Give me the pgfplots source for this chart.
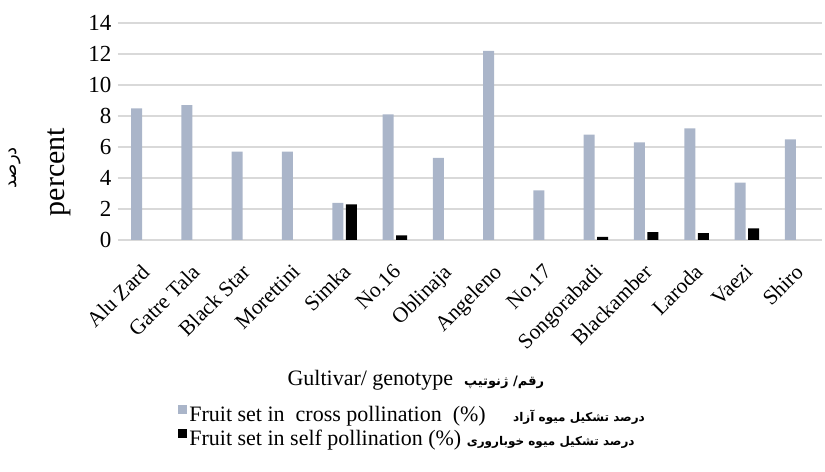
\documentclass[border=0pt]{standalone}
\usepackage{pgfplots}
\pgfplotsset{compat=1.18}
\usepackage{fontspec}
\setmainfont{Liberation Serif}
\newfontfamily\arabicfont[Script=Arabic]{DejaVu Sans}
\TeXXeTstate=1
\definecolor{crossc}{RGB}{170,181,201}
\definecolor{gridc}{RGB}{217,217,217}
\begin{document}
\begin{tikzpicture}
\begin{axis}[
 clip=false,
 scale only axis, width=704pt, height=217pt,
 ymin=0, ymax=14, ytick={0,2,...,14},
 xmin=-0.5, xmax=13.5,
 xtick={0,...,13},
 xticklabels={Alu Zard, Gatre Tala, Black Star, Morettini, Simka, No.16, Oblinaja, Angeleno, No.17, Songorabadi, Blackamber, Laroda, Vaezi, Shiro},
 axis line style={draw=none},
 major tick length=0pt,
 ymajorgrids, grid style={gridc, line width=1.2pt},
 /pgf/number format/assume math mode=true,
 yticklabel style={font=\fontsize{23}{26}\selectfont, xshift=-3pt},
 xticklabel style={font=\fontsize{21.5}{24}\selectfont, xshift=-3pt, yshift=-18pt, rotate=45, anchor=north east},
 legend style={at={(axis description cs:0.0855,-0.755)}, anchor=north west, draw=none, fill=none, font=\fontsize{22}{25}\selectfont, legend cell align=left, row sep=3pt, inner sep=0pt},
]
\addplot[ybar, bar width=11pt, bar shift=-6.5pt, fill=crossc, draw=none,
  legend image code/.code={\fill[crossc] (0pt,0pt) rectangle (9pt,9pt);}]
 coordinates {(0,8.5) (1,8.7) (2,5.7) (3,5.7) (4,2.4) (5,8.1) (6,5.3) (7,12.2) (8,3.2) (9,6.8) (10,6.3) (11,7.2) (12,3.7) (13,6.5)};
\addlegendentry{Fruit set in\ \ cross pollination\ \ (\%)\quad\ {\arabicfont\bfseries\fontsize{12}{18}\selectfont\beginR درصد تشکیل میوه آزاد\endR}}
\addplot[ybar, bar width=11pt, bar shift=7pt, fill=black, draw=none,
  legend image code/.code={\fill[black] (0pt,0pt) rectangle (9pt,9pt);}]
 coordinates {(4,2.3) (5,0.3) (9,0.2) (10,0.5) (11,0.45) (12,0.75)};
\addlegendentry{Fruit set in self pollination (\%) {\arabicfont\bfseries\fontsize{12}{18}\selectfont\beginR درصد تشکیل میوه خوباروری\endR}}
\node[font=\fontsize{22}{25}\selectfont] at (axis description cs:0.423,-0.645) {Gultivar/ genotype\ \ {\arabicfont\bfseries\fontsize{13}{18}\selectfont\beginR رقم/ ژنوتیپ\endR}};
\node[rotate=90, font=\fontsize{30}{33}\selectfont] at (axis description cs:-0.0838,0.313) {percent};
\node[rotate=90, font=\arabicfont\fontsize{18}{20}\selectfont] at (axis description cs:-0.146,0.332) {\beginR درصد\endR};
\path (axis description cs:-0.1676,1.106) rectangle (axis description cs:1.0043,-1.069);
\end{axis}
\end{tikzpicture}
\end{document}
